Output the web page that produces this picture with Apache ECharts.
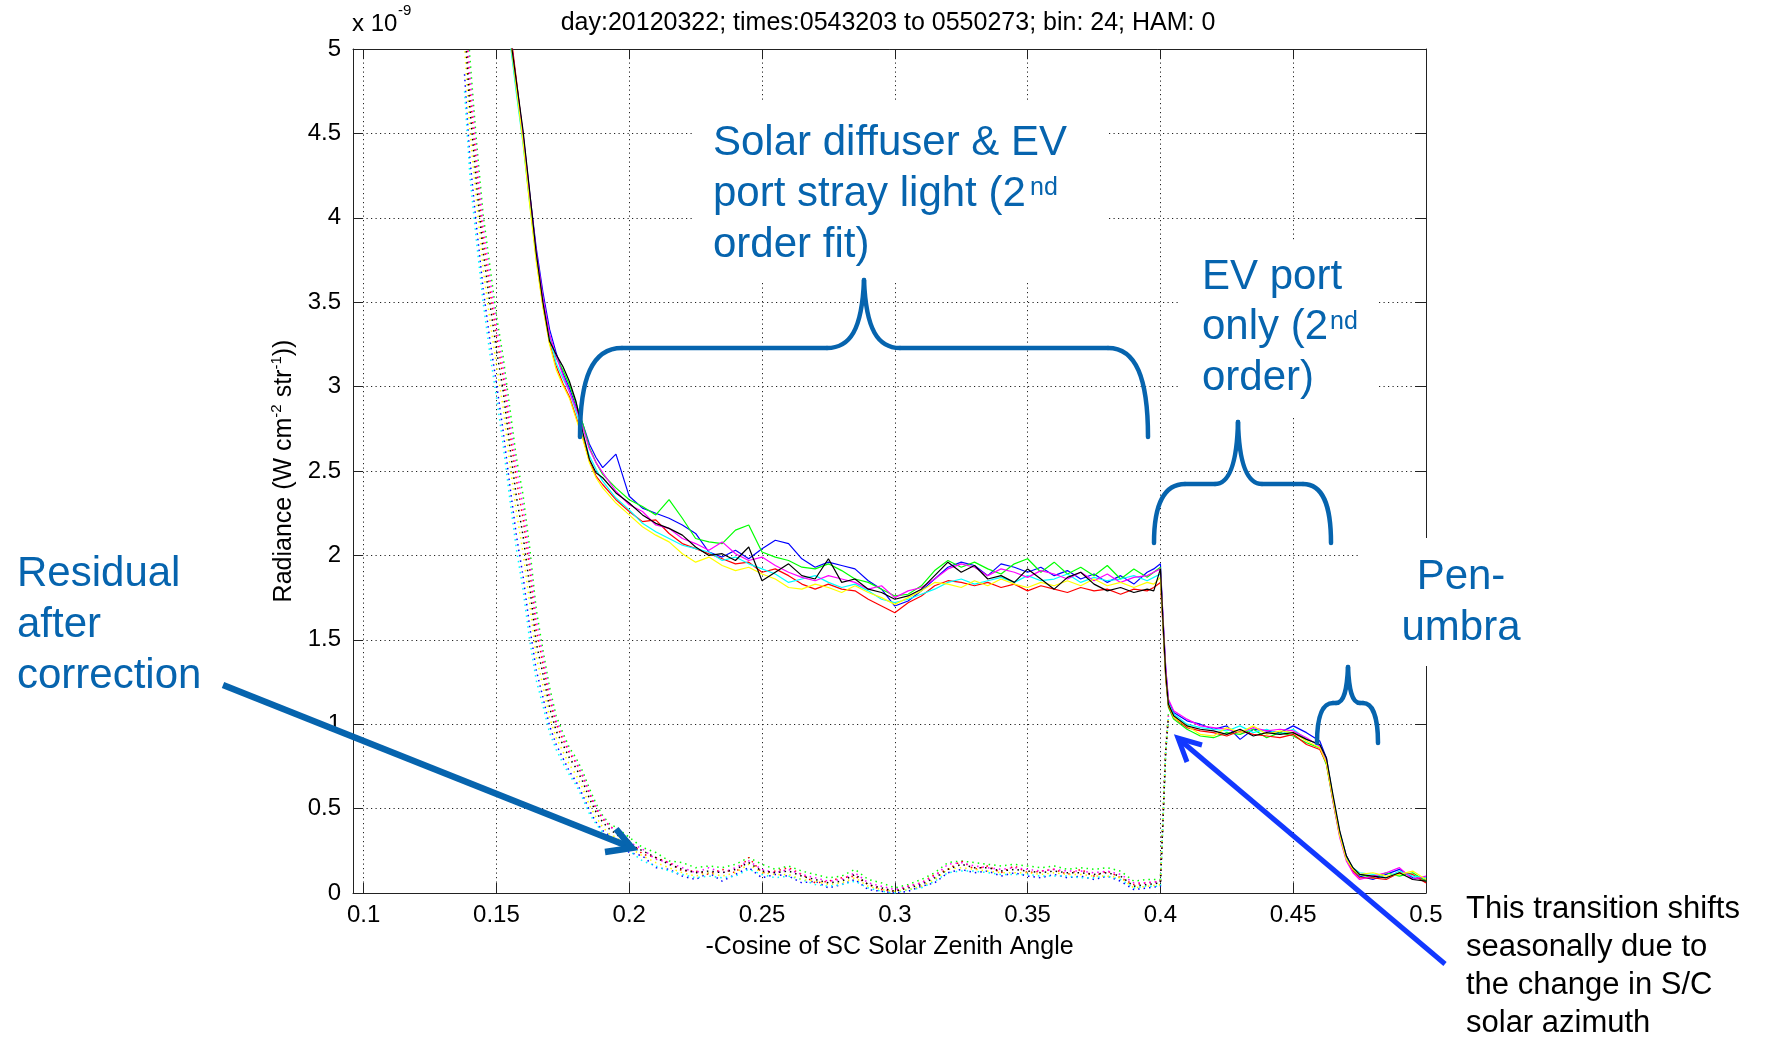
<!DOCTYPE html>
<html>
<head>
<meta charset="utf-8">
<title>Radiance vs -Cosine of SC Solar Zenith Angle</title>
<script src="https://cdn.jsdelivr.net/npm/echarts@6.0.0/dist/echarts.min.js"></script>
<style>
  html, body { margin: 0; padding: 0; background: #fff; }
  #chart { width: 1767px; height: 1039px; }
</style>
</head>
<body>
<div id="chart"></div>
<script>
// -cos(SZA) sample points for the uncorrected radiance runs
const cosSza = [
  0.155, 0.1575, 0.16, 0.1625, 0.165, 0.1675, 0.17, 0.1725, 0.175, 0.1775, 0.18, 0.1825, 0.185, 0.1875, 0.19,
  0.195, 0.2, 0.205, 0.21, 0.215, 0.22, 0.225, 0.23, 0.235, 0.24, 0.245, 0.25, 0.255, 0.26, 0.265, 0.27,
  0.275, 0.28, 0.285, 0.29, 0.295, 0.3, 0.305, 0.31, 0.315, 0.32, 0.325, 0.33, 0.335, 0.34, 0.345, 0.35,
  0.355, 0.36, 0.365, 0.37, 0.375, 0.38, 0.385, 0.39, 0.395,
  0.3975, 0.4, 0.401, 0.402, 0.403, 0.405,
  0.41, 0.415, 0.42, 0.425, 0.43, 0.435, 0.44, 0.445, 0.45, 0.455, 0.46,
  0.4625, 0.465, 0.4675, 0.47, 0.4725, 0.475,
  0.48, 0.485, 0.49, 0.495, 0.5
];

// radiance, units of 1e-9 W cm^-2 str^-1
const radB = [
  5.12, 4.80, 4.50, 4.15, 3.82, 3.56, 3.34, 3.20, 3.08, 2.99, 2.88, 2.78, 2.66, 2.58, 2.52,
  2.60, 2.35, 2.28, 2.25, 2.22, 2.18, 2.13, 2.02, 1.99, 2.03, 1.98, 2.04, 2.09, 2.07, 1.98, 1.93,
  1.96, 1.94, 1.92, 1.85, 1.80, 1.70, 1.73, 1.79, 1.86, 1.93, 1.96, 1.94, 1.88, 1.95, 1.93, 1.90,
  1.93, 1.88, 1.91, 1.86, 1.89, 1.84, 1.88, 1.83, 1.90,
  1.92, 1.95, 1.62, 1.33, 1.14, 1.07,
  1.02, 1.00, 0.97, 0.99, 0.91, 0.97, 0.96, 0.95, 0.99, 0.95, 0.90,
  0.80, 0.56, 0.36, 0.22, 0.14, 0.10,
  0.08, 0.11, 0.14, 0.09, 0.08
];
const radG = [
  5.08, 4.76, 4.46, 4.10, 3.78, 3.52, 3.30, 3.17, 3.10, 3.01, 2.90, 2.78, 2.64, 2.55, 2.48,
  2.40, 2.33, 2.29, 2.24, 2.33, 2.22, 2.10, 2.08, 2.07, 2.15, 2.18, 2.02, 1.99, 1.97, 1.93, 1.92,
  1.95, 1.91, 1.86, 1.84, 1.80, 1.76, 1.77, 1.82, 1.91, 1.97, 1.93, 1.96, 1.92, 1.89, 1.95, 1.98,
  1.90, 1.96, 1.89, 1.93, 1.88, 1.94, 1.86, 1.92, 1.87,
  1.90, 1.93, 1.58, 1.28, 1.10, 1.03,
  0.97, 0.93, 0.92, 0.95, 0.94, 0.97, 0.92, 0.95, 0.93, 0.89, 0.86,
  0.76, 0.54, 0.34, 0.20, 0.13, 0.11,
  0.09, 0.12, 0.10, 0.12, 0.07
];
const radR = [
  5.14, 4.82, 4.48, 4.12, 3.76, 3.48, 3.26, 3.12, 3.02, 2.94, 2.82, 2.70, 2.56, 2.47, 2.42,
  2.33, 2.26, 2.20, 2.21, 2.13, 2.07, 2.04, 2.01, 1.98, 1.95, 1.96, 1.90, 1.92, 1.88, 1.83, 1.80,
  1.83, 1.80, 1.79, 1.74, 1.70, 1.66, 1.72, 1.76, 1.82, 1.85, 1.84, 1.82, 1.84, 1.81, 1.83, 1.79,
  1.82, 1.80, 1.78, 1.81, 1.79, 1.80, 1.77, 1.80, 1.79,
  1.81, 1.84, 1.57, 1.27, 1.11, 1.04,
  0.98, 0.96, 0.95, 0.93, 0.96, 0.94, 0.93, 0.92, 0.94, 0.88, 0.85,
  0.77, 0.55, 0.35, 0.21, 0.13, 0.09,
  0.09, 0.08, 0.12, 0.11, 0.06
];
const radC = [
  5.06, 4.74, 4.44, 4.09, 3.77, 3.51, 3.29, 3.14, 3.05, 2.97, 2.85, 2.72, 2.59, 2.51, 2.44,
  2.34, 2.27, 2.19, 2.14, 2.10, 2.06, 2.04, 2.02, 1.97, 1.99, 1.95, 1.92, 1.89, 1.84, 1.86, 1.88,
  1.84, 1.81, 1.83, 1.79, 1.74, 1.72, 1.74, 1.77, 1.80, 1.84, 1.86, 1.83, 1.85, 1.87, 1.84, 1.88,
  1.85, 1.86, 1.89, 1.84, 1.87, 1.85, 1.86, 1.88, 1.85,
  1.87, 1.89, 1.61, 1.31, 1.13, 1.06,
  1.00, 0.98, 0.97, 0.96, 0.99, 0.95, 0.97, 0.94, 0.97, 0.91, 0.88,
  0.79, 0.57, 0.36, 0.21, 0.15, 0.12,
  0.11, 0.09, 0.13, 0.10, 0.09
];
const radM = [
  5.11, 4.79, 4.49, 4.14, 3.80, 3.53, 3.31, 3.18, 3.07, 2.97, 2.87, 2.76, 2.63, 2.55, 2.49,
  2.38, 2.30, 2.26, 2.18, 2.16, 2.10, 2.07, 2.03, 2.08, 2.01, 1.97, 1.99, 1.94, 1.90, 1.87, 1.85,
  1.88, 1.86, 1.84, 1.80, 1.82, 1.75, 1.79, 1.81, 1.86, 1.92, 1.95, 1.93, 1.88, 1.92, 1.90, 1.87,
  1.91, 1.89, 1.86, 1.90, 1.85, 1.89, 1.84, 1.87, 1.88,
  1.90, 1.92, 1.63, 1.34, 1.15, 1.08,
  1.03, 0.99, 0.98, 0.97, 0.95, 0.98, 0.96, 0.97, 0.96, 0.92, 0.87,
  0.78, 0.54, 0.33, 0.19, 0.12, 0.08,
  0.10, 0.12, 0.15, 0.08, 0.10
];
const radY = [
  5.09, 4.77, 4.45, 4.08, 3.74, 3.47, 3.25, 3.10, 3.01, 2.93, 2.81, 2.69, 2.55, 2.46, 2.40,
  2.31, 2.24, 2.17, 2.12, 2.08, 2.01, 1.96, 1.99, 1.94, 1.91, 1.93, 1.89, 1.86, 1.81, 1.80, 1.83,
  1.81, 1.78, 1.82, 1.78, 1.75, 1.71, 1.75, 1.79, 1.84, 1.83, 1.81, 1.85, 1.82, 1.86, 1.83, 1.81,
  1.84, 1.82, 1.85, 1.82, 1.86, 1.82, 1.84, 1.81, 1.84,
  1.83, 1.87, 1.59, 1.29, 1.12, 1.04,
  0.99, 0.94, 0.93, 0.98, 0.95, 0.99, 0.94, 0.96, 0.95, 0.90, 0.86,
  0.77, 0.55, 0.34, 0.20, 0.14, 0.11,
  0.12, 0.10, 0.11, 0.13, 0.08
];
const radK = [
  5.10, 4.81, 4.52, 4.16, 3.79, 3.50, 3.27, 3.19, 3.12, 3.03, 2.91, 2.73, 2.57, 2.49, 2.46,
  2.37, 2.31, 2.24, 2.19, 2.16, 2.12, 2.05, 2.00, 2.01, 1.97, 2.05, 1.85, 1.90, 1.95, 1.88, 1.86,
  1.98, 1.84, 1.86, 1.80, 1.78, 1.74, 1.76, 1.80, 1.88, 1.96, 1.90, 1.94, 1.86, 1.88, 1.84, 1.92,
  1.86, 1.80, 1.87, 1.90, 1.83, 1.79, 1.81, 1.78, 1.80,
  1.79, 1.92, 1.60, 1.30, 1.12, 1.05,
  0.99, 0.97, 0.96, 0.94, 0.97, 0.93, 0.95, 0.94, 0.95, 0.91, 0.88,
  0.80, 0.58, 0.37, 0.22, 0.15, 0.11,
  0.10, 0.09, 0.12, 0.08, 0.07
];

// -cos(SZA) sample points for the residual after correction
const cosSzaRes = [
  0.138, 0.14, 0.1425, 0.145, 0.1475, 0.15, 0.1525, 0.155, 0.1575, 0.16, 0.1625, 0.165,
  0.1675, 0.17, 0.1725, 0.175, 0.1775, 0.18, 0.1825, 0.185, 0.1875, 0.19, 0.1925,
  0.195, 0.2, 0.205, 0.21, 0.215, 0.22, 0.225, 0.23, 0.235, 0.24, 0.245, 0.25, 0.255, 0.26,
  0.265, 0.27, 0.275, 0.28, 0.285, 0.29, 0.295, 0.3, 0.305, 0.31, 0.315, 0.32, 0.325, 0.33,
  0.335, 0.34, 0.345, 0.35, 0.355, 0.36, 0.365, 0.37, 0.375, 0.38, 0.385, 0.39, 0.395, 0.4,
  0.401, 0.402, 0.403
];
const resB = [
  4.85, 4.35, 3.95, 3.58, 3.28, 3.02, 2.74, 2.42, 2.12, 1.88, 1.58, 1.32,
  1.16, 0.99, 0.88, 0.80, 0.72, 0.66, 0.58, 0.49, 0.42, 0.37, 0.34,
  0.31, 0.24, 0.22, 0.15, 0.14, 0.10, 0.08, 0.12, 0.07, 0.11, 0.15, 0.09, 0.11, 0.10,
  0.06, 0.07, 0.03, 0.05, 0.08, 0.02, 0.01, 0.00, 0.01, 0.04, 0.06, 0.12, 0.14, 0.12,
  0.13, 0.10, 0.12, 0.10, 0.09, 0.11, 0.09, 0.10, 0.08, 0.10, 0.07, 0.02, 0.03, 0.04,
  0.44, 0.84, 1.04
];
const resG = [
  5.45, 4.95, 4.45, 4.02, 3.72, 3.42, 3.18, 2.88, 2.58, 2.36, 2.05, 1.68,
  1.44, 1.22, 1.05, 0.95, 0.86, 0.80, 0.72, 0.62, 0.53, 0.46, 0.41,
  0.39, 0.33, 0.27, 0.24, 0.19, 0.18, 0.15, 0.16, 0.15, 0.17, 0.21, 0.17, 0.14, 0.16,
  0.13, 0.11, 0.09, 0.10, 0.14, 0.08, 0.06, 0.03, 0.05, 0.08, 0.12, 0.18, 0.19, 0.18,
  0.17, 0.16, 0.17, 0.16, 0.15, 0.16, 0.14, 0.15, 0.14, 0.15, 0.13, 0.07, 0.08, 0.08,
  0.46, 0.86, 1.06
];
const resR = [
  5.25, 4.75, 4.30, 3.88, 3.58, 3.30, 3.06, 2.74, 2.45, 2.22, 1.92, 1.56,
  1.36, 1.15, 1.00, 0.91, 0.83, 0.77, 0.69, 0.59, 0.50, 0.44, 0.40,
  0.37, 0.31, 0.23, 0.21, 0.18, 0.13, 0.13, 0.11, 0.14, 0.12, 0.21, 0.12, 0.13, 0.15,
  0.11, 0.06, 0.07, 0.09, 0.10, 0.05, 0.02, 0.01, 0.04, 0.06, 0.11, 0.14, 0.19, 0.14,
  0.16, 0.12, 0.16, 0.12, 0.13, 0.14, 0.11, 0.14, 0.10, 0.13, 0.09, 0.05, 0.06, 0.07,
  0.45, 0.85, 1.05
];
const resC = [
  4.75, 4.25, 3.86, 3.50, 3.20, 2.94, 2.66, 2.34, 2.04, 1.80, 1.50, 1.26,
  1.11, 0.95, 0.85, 0.77, 0.70, 0.64, 0.56, 0.47, 0.41, 0.36, 0.32,
  0.30, 0.25, 0.19, 0.16, 0.13, 0.11, 0.09, 0.10, 0.09, 0.10, 0.14, 0.11, 0.09, 0.10,
  0.08, 0.05, 0.04, 0.05, 0.07, 0.03, 0.01, 0.00, 0.02, 0.03, 0.07, 0.12, 0.13, 0.13,
  0.12, 0.11, 0.11, 0.11, 0.10, 0.10, 0.10, 0.09, 0.09, 0.10, 0.08, 0.03, 0.04, 0.04,
  0.43, 0.83, 1.03
];
const resM = [
  5.35, 4.85, 4.38, 3.95, 3.65, 3.36, 3.12, 2.80, 2.52, 2.29, 1.98, 1.62,
  1.40, 1.18, 1.02, 0.93, 0.84, 0.78, 0.70, 0.60, 0.51, 0.45, 0.40,
  0.36, 0.30, 0.26, 0.20, 0.18, 0.15, 0.12, 0.15, 0.12, 0.15, 0.19, 0.14, 0.12, 0.14,
  0.11, 0.09, 0.07, 0.08, 0.12, 0.06, 0.04, 0.02, 0.04, 0.06, 0.10, 0.17, 0.18, 0.16,
  0.15, 0.14, 0.15, 0.14, 0.13, 0.14, 0.13, 0.13, 0.12, 0.13, 0.11, 0.06, 0.06, 0.07,
  0.45, 0.85, 1.05
];
const resY = [
  5.02, 4.52, 4.10, 3.70, 3.40, 3.13, 2.88, 2.55, 2.26, 2.02, 1.72, 1.40,
  1.23, 1.04, 0.92, 0.84, 0.76, 0.70, 0.62, 0.52, 0.45, 0.39, 0.35,
  0.33, 0.27, 0.22, 0.18, 0.15, 0.12, 0.10, 0.12, 0.10, 0.12, 0.17, 0.12, 0.11, 0.11,
  0.08, 0.07, 0.05, 0.06, 0.09, 0.04, 0.02, 0.01, 0.02, 0.04, 0.08, 0.14, 0.15, 0.14,
  0.13, 0.12, 0.12, 0.12, 0.11, 0.12, 0.11, 0.11, 0.10, 0.10, 0.09, 0.03, 0.04, 0.05,
  0.44, 0.84, 1.04
];
const resK = [
  5.15, 4.65, 4.20, 3.80, 3.50, 3.22, 2.98, 2.65, 2.35, 2.12, 1.82, 1.48,
  1.30, 1.10, 0.96, 0.88, 0.80, 0.74, 0.66, 0.56, 0.48, 0.42, 0.38,
  0.35, 0.29, 0.25, 0.21, 0.17, 0.14, 0.12, 0.13, 0.12, 0.14, 0.18, 0.13, 0.12, 0.13,
  0.10, 0.08, 0.06, 0.07, 0.11, 0.05, 0.03, 0.01, 0.03, 0.05, 0.09, 0.14, 0.17, 0.15,
  0.15, 0.13, 0.14, 0.13, 0.12, 0.13, 0.12, 0.12, 0.11, 0.12, 0.10, 0.04, 0.05, 0.06,
  0.44, 0.84, 1.04
];

const xTicks = [0.1, 0.15, 0.2, 0.25, 0.3, 0.35, 0.4, 0.45, 0.5];
const runColors = ['#0000ff', '#00ff00', '#ff0000', '#00ffff', '#ff00ff', '#ffff00', '#000000'];
const radRuns = [radB, radG, radR, radC, radM, radY, radK];
const resRuns = [resB, resG, resR, resC, resM, resY, resK];

const FONT = '"Liberation Sans", Arial, Helvetica, sans-serif';
const INK = '#0664ae';      // slide annotation blue
const ARROW2 = '#1238ff';   // bright arrow

const chart = echarts.init(document.getElementById('chart'));

const series = [];
radRuns.forEach((run, i) => {
  series.push({
    type: 'line',
    data: cosSza.map((x, j) => [x, run[j]]),
    symbol: 'none',
    lineStyle: { width: 1.2, color: runColors[i] },
    z: 3,
    silent: true
  });
});
resRuns.forEach((run, i) => {
  series.push({
    type: 'line',
    data: cosSzaRes.map((x, j) => [x, run[j]]),
    symbol: 'none',
    lineStyle: { width: 1.5, color: runColors[i], type: [1.5, 4] },
    z: 3,
    silent: true
  });
});

function txt(x, y, text, size, color, align) {
  return {
    type: 'text', x: x, y: y, z: 10,
    style: {
      text: text, fill: color, fontSize: size, fontFamily: FONT,
      textAlign: align || 'left', textVerticalAlign: 'middle',
      align: align || 'left', verticalAlign: 'middle'
    }
  };
}
function whiteBox(x, y, w, h) {
  return { type: 'rect', z: 1, shape: { x: x, y: y, width: w, height: h }, style: { fill: '#fff' } };
}
// brace outline given as "M x y C ... L ..." -> bezierCurve / line elements
function brace(d) {
  const t = d.trim().split(/[\s,]+/);
  const els = [];
  const style = { fill: 'none', stroke: INK, lineWidth: 4.5, lineCap: 'round' };
  let i = 0, cx = 0, cy = 0;
  while (i < t.length) {
    const c = t[i++];
    if (c === 'M') {
      cx = +t[i++]; cy = +t[i++];
    } else if (c === 'L') {
      const x = +t[i++], y = +t[i++];
      els.push({ type: 'line', z: 10, shape: { x1: cx, y1: cy, x2: x, y2: y }, style: style });
      cx = x; cy = y;
    } else if (c === 'C') {
      const a = +t[i++], b = +t[i++], e = +t[i++], f = +t[i++], x = +t[i++], y = +t[i++];
      els.push({ type: 'bezierCurve', z: 10,
        shape: { x1: cx, y1: cy, cpx1: a, cpy1: b, cpx2: e, cpy2: f, x2: x, y2: y }, style: style });
      cx = x; cy = y;
    }
  }
  return els;
}
function stroke(points, color, width) {
  return { type: 'polyline', z: 10, shape: { points: points },
    style: { fill: 'none', stroke: color, lineWidth: width, lineCap: 'butt', lineJoin: 'miter' } };
}

const axisColor = '#222';
const gridLine = { show: true, lineStyle: { color: '#222', width: 1, type: [1.2, 3.3] } };

const graphicEls = [
  // text boxes on the slide hide the grid behind them
  whiteBox(693, 103, 414, 177),
  whiteBox(1178, 242, 200, 173),
  whiteBox(1360, 538, 190, 128),

  txt(352, 24, 'x 10', 24, '#000'),
  txt(398, 11, '-9', 15, '#000'),

  txt(713, 143, 'Solar diffuser & EV', 42, INK),
  txt(713, 194, 'port stray light (2', 42, INK),
  txt(1030, 188, 'nd', 25, INK),
  txt(713, 245, 'order fit)', 42, INK),

  txt(1202, 277, 'EV port', 42, INK),
  txt(1202, 327, 'only (2', 42, INK),
  txt(1330, 322, 'nd', 25, INK),
  txt(1202, 378, 'order)', 42, INK),

  txt(1461, 577, 'Pen-', 42, INK, 'center'),
  txt(1461, 628.5, 'umbra', 42, INK, 'center'),

  txt(17, 574.5, 'Residual', 42, INK),
  txt(17, 625.5, 'after', 42, INK),
  txt(17, 676.5, 'correction', 42, INK),
  stroke([[223, 685], [630, 847]], INK, 6.5),
  stroke([[616, 829], [632, 848], [605, 852]], INK, 6.5),

  stroke([[1445, 964], [1180, 740]], ARROW2, 5),
  stroke([[1202, 745], [1178, 738], [1187, 762]], ARROW2, 5),
  txt(1466, 909, 'This transition shifts', 31, '#000'),
  txt(1466, 947, 'seasonally due to', 31, '#000'),
  txt(1466, 985, 'the change in S/C', 31, '#000'),
  txt(1466, 1023, 'solar azimuth', 31, '#000')
].concat(
  brace('M 580 437 C 580 378 592 348 622 348 L 827 348 C 850 348 862 330 864 280 ' +
        'C 866 330 878 348 900 348 L 1108 348 C 1136 348 1148 378 1148 437'),
  brace('M 1154 543 C 1154 505 1163 484 1185 484 L 1215 484 C 1230 484 1237 460 1238 422 ' +
        'C 1239 460 1246 484 1262 484 L 1303 484 C 1323 484 1331 505 1331 543'),
  brace('M 1317 743 C 1317 718 1322 703 1333 703 L 1336 703 C 1344 703 1347 690 1348 667 ' +
        'C 1349 690 1352 703 1360 703 L 1363 703 C 1373 703 1378 718 1378 743')
);

const option = {
  animation: false,
  backgroundColor: '#fff',
  textStyle: { fontFamily: FONT },
  title: {
    text: 'day:20120322; times:0543203 to 0550273; bin: 24; HAM: 0',
    left: 883, top: 6, textAlign: 'center',
    textStyle: { fontSize: 25, fontWeight: 'normal', color: '#000', fontFamily: FONT }
  },
  grid: { left: 353, right: 341, top: 49, bottom: 146, containLabel: false, outerBoundsMode: 'none' },
  xAxis: [
    {
      type: 'value', min: 0.096, max: 0.5, position: 'bottom',
      axisLine: { show: true, onZero: false, lineStyle: { color: axisColor, width: 1 } },
      axisTick: { show: true, inside: true, length: 10, customValues: xTicks, lineStyle: { color: axisColor } },
      axisLabel: { customValues: xTicks, color: '#000', fontSize: 24, fontFamily: FONT, margin: 10 },
      splitLine: gridLine,
      name: '-Cosine of SC Solar Zenith Angle',
      nameLocation: 'middle', nameGap: 42,
      nameTextStyle: { color: '#000', fontSize: 25, fontFamily: FONT }
    },
    {
      type: 'value', min: 0.096, max: 0.5, position: 'top',
      axisLine: { show: true, onZero: false, lineStyle: { color: axisColor, width: 1 } },
      axisTick: { show: true, inside: true, length: 10, customValues: xTicks, lineStyle: { color: axisColor } },
      axisLabel: { show: false },
      splitLine: { show: false }
    }
  ],
  yAxis: [
    {
      type: 'value', min: 0, max: 5, interval: 0.5, position: 'left',
      axisLine: { show: true, onZero: false, lineStyle: { color: axisColor, width: 1 } },
      axisTick: { show: true, inside: true, length: 10, lineStyle: { color: axisColor } },
      axisLabel: { color: '#000', fontSize: 24, fontFamily: FONT, margin: 12 },
      splitLine: gridLine,
      name: '{t|Radiance (W cm}{s|-2}{t| str}{s|-1}{t|))}',
      nameLocation: 'middle', nameGap: 49, nameRotate: 90,
      nameTextStyle: {
        rich: {
          t: { fontSize: 25, fontFamily: FONT, color: '#000', lineHeight: 30 },
          s: { fontSize: 15, fontFamily: FONT, color: '#000', lineHeight: 12, verticalAlign: 'top' }
        }
      }
    },
    {
      type: 'value', min: 0, max: 5, interval: 0.5, position: 'right',
      axisLine: { show: true, onZero: false, lineStyle: { color: axisColor, width: 1 } },
      axisTick: { show: true, inside: true, length: 10, lineStyle: { color: axisColor } },
      axisLabel: { show: false },
      splitLine: { show: false }
    }
  ],
  graphic: { elements: graphicEls },
  series: series
};

chart.setOption(option);
</script>
</body>
</html>
